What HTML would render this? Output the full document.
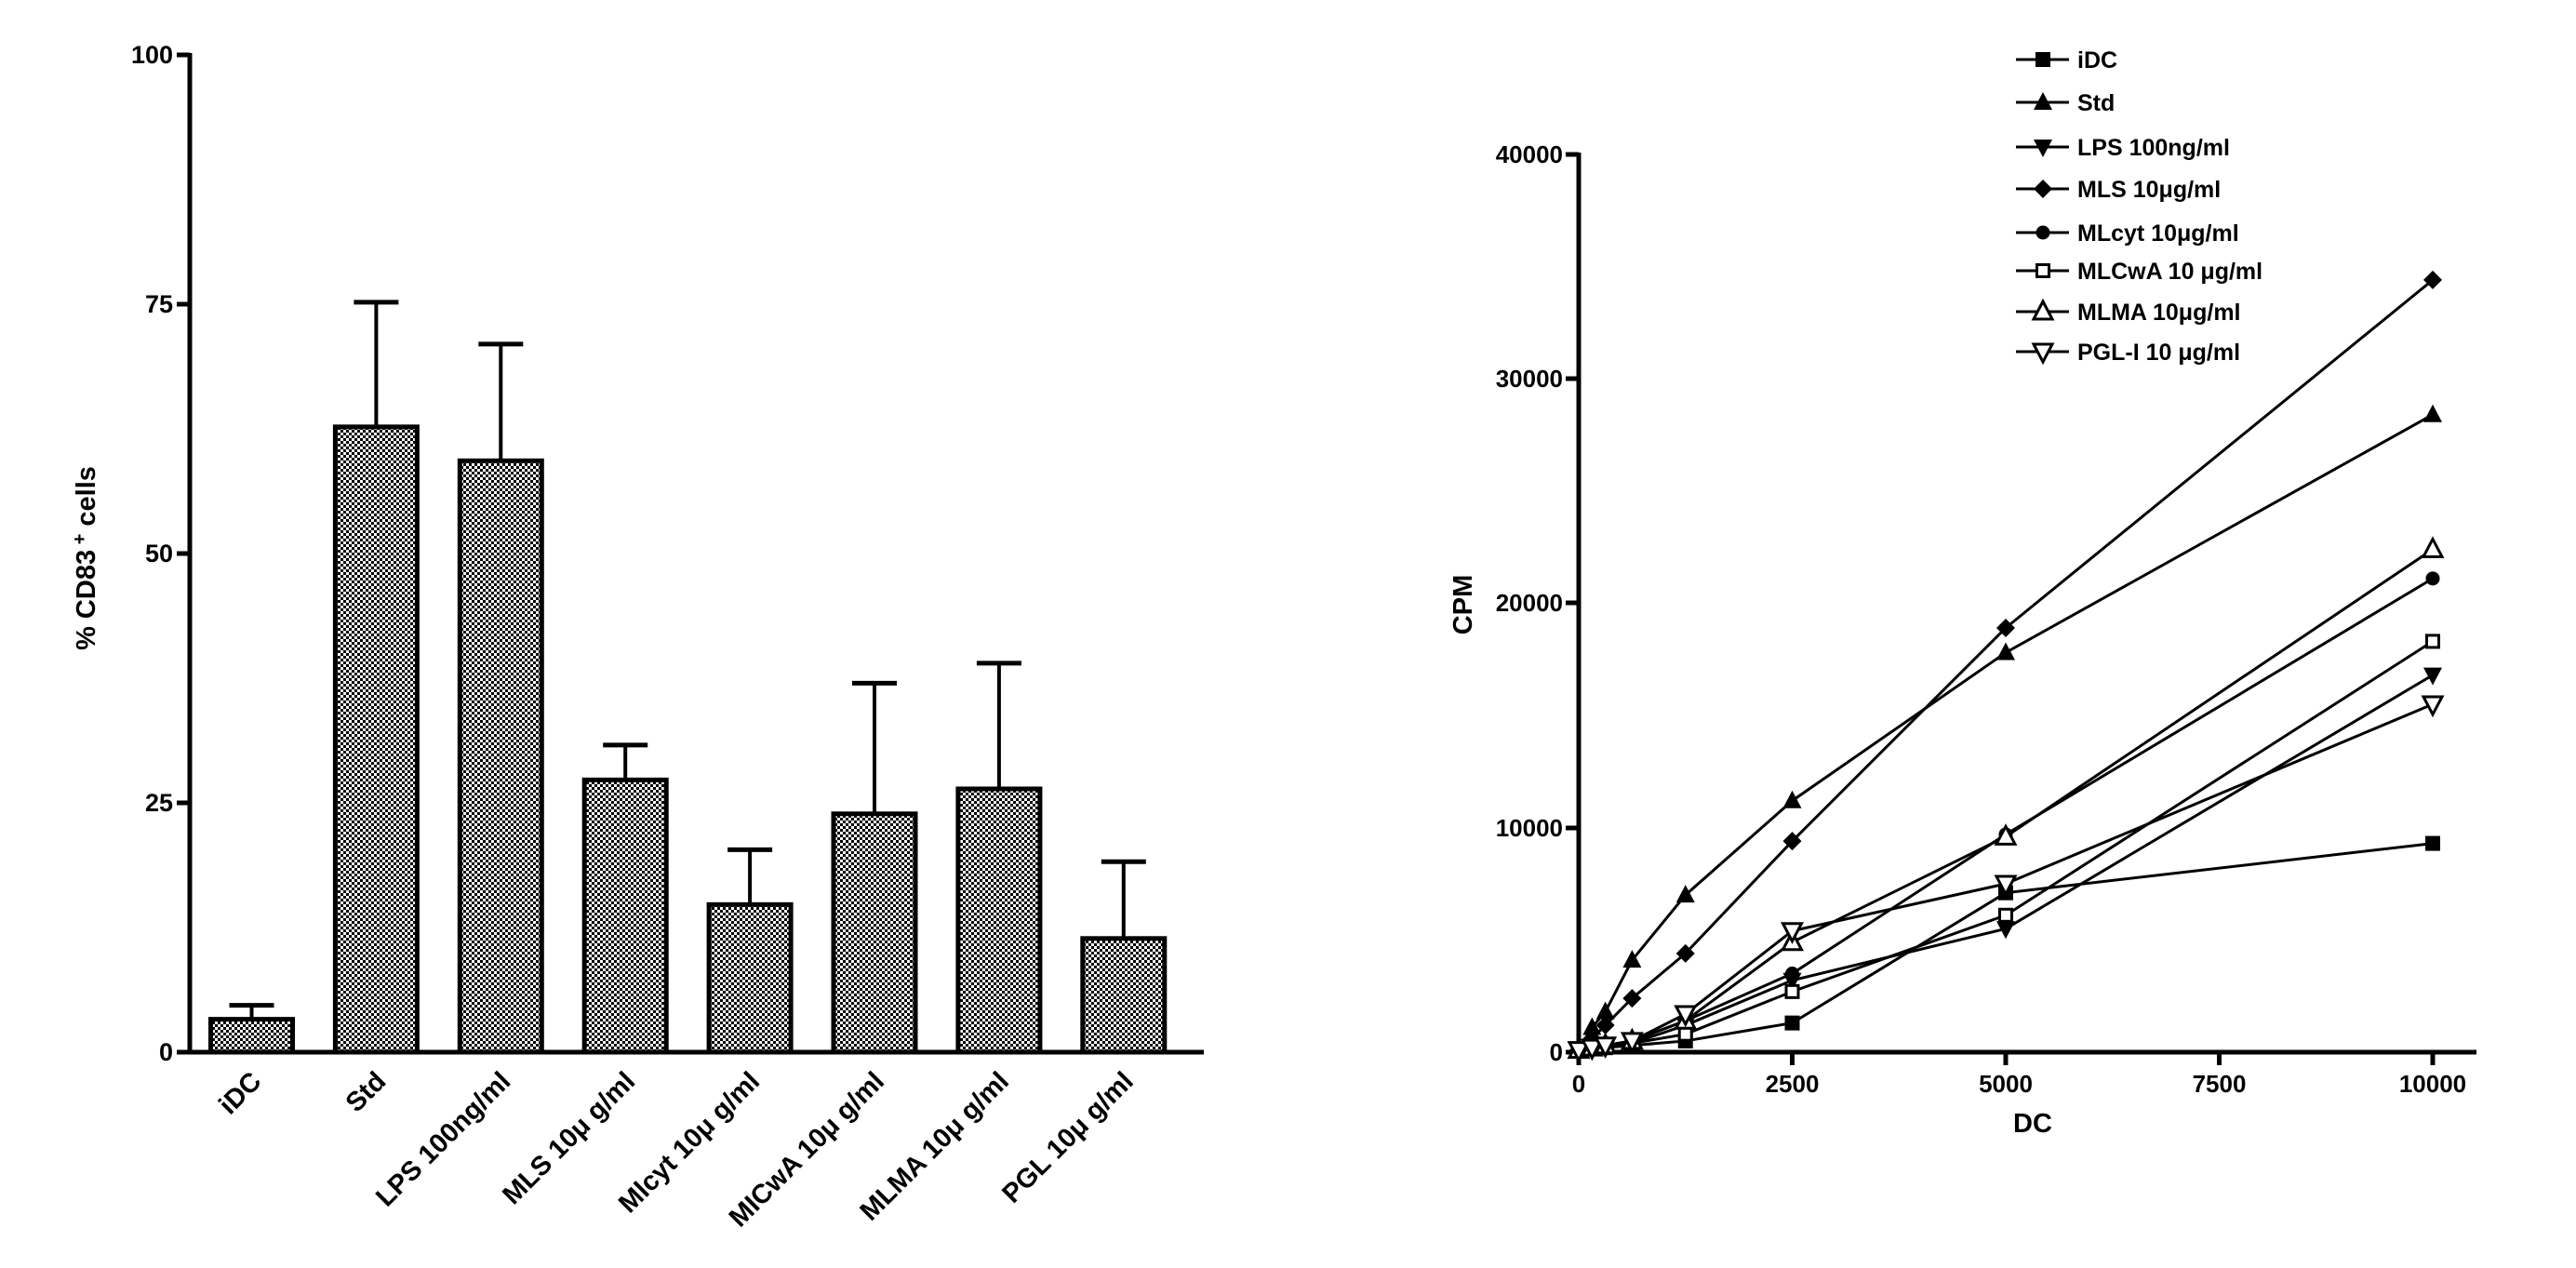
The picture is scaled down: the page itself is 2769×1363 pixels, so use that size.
<!DOCTYPE html>
<html><head><meta charset="utf-8"><style>
html,body{margin:0;padding:0;background:#fff;}
svg{display:block;font-family:"Liberation Sans",Arial,sans-serif;font-weight:bold;}
</style></head><body>
<svg width="2769" height="1363" viewBox="0 0 2769 1363" xmlns="http://www.w3.org/2000/svg">
<defs>
<pattern id="chk" width="6" height="6" patternUnits="userSpaceOnUse">
<rect width="6" height="6" fill="#fff"/><rect width="3" height="3" fill="#000"/><rect x="3" y="3" width="3" height="3" fill="#000"/>
</pattern>
</defs>
<g stroke="#000" stroke-width="5" fill="none">
<line x1="204" y1="57" x2="204" y2="1133"/>
<line x1="190" y1="1131" x2="1294" y2="1131"/>
<line x1="190" y1="59" x2="204" y2="59"/>
<line x1="190" y1="327" x2="204" y2="327"/>
<line x1="190" y1="595" x2="204" y2="595"/>
<line x1="190" y1="863" x2="204" y2="863"/>
</g>
<g font-size="27" text-anchor="end">
<text x="186" y="68">100</text><text x="186" y="336">75</text><text x="186" y="604">50</text><text x="186" y="872">25</text><text x="186" y="1140">0</text>
</g>
<text transform="translate(102,600) rotate(-90)" font-size="29" text-anchor="middle">% CD83<tspan font-size="20" dy="-10"> +</tspan><tspan dy="10"> cells</tspan></text>
<g id="bars"></g>
<script>
(function(){
var vals=[[3.3,4.7],[62.7,75.2],[59.3,71],[27.3,30.8],[14.8,20.3],[23.9,37],[26.4,39],[11.4,19.1]];
var labels=["iDC","Std","LPS 100ng/ml","MLS 10\u03bc g/ml","Mlcyt 10\u03bc g/ml","MICwA 10\u03bc g/ml","MLMA 10\u03bc g/ml","PGL 10\u03bc g/ml"];
var ns="http://www.w3.org/2000/svg",g=document.getElementById("bars");
function y(v){return 1131-v*10.72;}
function el(t,a,txt){var e=document.createElementNS(ns,t);for(var k in a)e.setAttribute(k,a[k]);if(txt)e.textContent=txt;g.appendChild(e);return e;}
for(var i=0;i<8;i++){
var cx=270.5+i*133.9,w=93;
el("line",{x1:cx,y1:y(vals[i][1]),x2:cx,y2:y(vals[i][0]),stroke:"#000","stroke-width":4});
el("line",{x1:cx-24,y1:y(vals[i][1]),x2:cx+24,y2:y(vals[i][1]),stroke:"#000","stroke-width":5});
el("rect",{x:cx-w/2+2.5,y:y(vals[i][0]),width:w-5,height:1131-y(vals[i][0]),fill:"url(#chk)",stroke:"#000","stroke-width":5});
el("text",{transform:"translate("+(cx+12)+",1164) rotate(-45)","text-anchor":"end","font-size":"29"},labels[i]);
}
})();
</script>
<g stroke="#000" stroke-width="5" fill="none">
<line x1="1697" y1="164" x2="1697" y2="1145"/>
<line x1="1683" y1="1131" x2="2662" y2="1131"/>
<line x1="1683" y1="166" x2="1697" y2="166"/>
<line x1="1683" y1="407" x2="1697" y2="407"/>
<line x1="1683" y1="648" x2="1697" y2="648"/>
<line x1="1683" y1="890" x2="1697" y2="890"/>
<line x1="1926.5" y1="1131" x2="1926.5" y2="1145"/>
<line x1="2156" y1="1131" x2="2156" y2="1145"/>
<line x1="2385.5" y1="1131" x2="2385.5" y2="1145"/>
<line x1="2615" y1="1131" x2="2615" y2="1145"/>
</g>
<g font-size="26" text-anchor="end">
<text x="1680" y="175">40000</text><text x="1680" y="416">30000</text><text x="1680" y="657">20000</text><text x="1680" y="899">10000</text><text x="1680" y="1140">0</text>
</g>
<g font-size="26" text-anchor="middle">
<text x="1697" y="1174">0</text><text x="1926.5" y="1174">2500</text><text x="2156" y="1174">5000</text><text x="2385.5" y="1174">7500</text><text x="2615" y="1174">10000</text>
</g>
<text x="2185" y="1217" font-size="29" text-anchor="middle">DC</text>
<text transform="translate(1582,650) rotate(-90)" font-size="29" text-anchor="middle">CPM</text>
<g id="lines"></g>
<script>
(function(){
var ns="http://www.w3.org/2000/svg",g=document.getElementById("lines");
function el(t,a,txt){var e=document.createElementNS(ns,t);for(var k in a)e.setAttribute(k,a[k]);if(txt)e.textContent=txt;g.appendChild(e);return e;}
var xs=[0,156,312,625,1250,2500,5000,10000];
var S=[
["iDC","sq",[100,150,200,300,500,1300,7100,9300]],
["Std","tu",[100,1100,1800,4100,7000,11200,17800,28400]],
["LPS 100ng/ml","td",[100,200,300,400,1200,3200,5500,16800]],
["MLS 10\u03bcg/ml","dia",[100,600,1200,2400,4400,9400,18900,34400]],
["MLcyt 10\u03bcg/ml","ci",[100,200,300,500,1400,3500,9700,21100]],
["MLCwA 10 \u03bcg/ml","osq",[100,150,250,400,800,2700,6100,18300]],
["MLMA 10\u03bcg/ml","otu",[100,200,300,500,1400,4900,9600,22400]],
["PGL-I 10 \u03bcg/ml","otd",[100,200,300,500,1700,5400,7500,15500]]];
function X(v){return 1697+v*0.0918;}function Y(v){return 1131-v*0.02413;}
function mk(t,x,y){var s=8;
if(t=="sq")el("rect",{x:x-s,y:y-s,width:2*s,height:2*s,fill:"#000"});
if(t=="osq")el("rect",{x:x-s+1.5,y:y-s+1.5,width:2*s-3,height:2*s-3,fill:"#fff",stroke:"#000","stroke-width":3});
if(t=="tu")el("polygon",{points:(x-10)+","+(y+8)+" "+(x+10)+","+(y+8)+" "+x+","+(y-11),fill:"#000"});
if(t=="td")el("polygon",{points:(x-10)+","+(y-8)+" "+(x+10)+","+(y-8)+" "+x+","+(y+11),fill:"#000"});
if(t=="otu")el("polygon",{points:(x-10)+","+(y+8)+" "+(x+10)+","+(y+8)+" "+x+","+(y-11),fill:"#fff",stroke:"#000","stroke-width":3});
if(t=="otd")el("polygon",{points:(x-10)+","+(y-8)+" "+(x+10)+","+(y-8)+" "+x+","+(y+11),fill:"#fff",stroke:"#000","stroke-width":3});
if(t=="dia")el("polygon",{points:x+","+(y-10)+" "+(x+10)+","+y+" "+x+","+(y+10)+" "+(x-10)+","+y,fill:"#000"});
if(t=="ci")el("circle",{cx:x,cy:y,r:7.5,fill:"#000"});
}
S.forEach(function(s){var p=s[2].map(function(v,i){return X(xs[i])+","+Y(v);}).join(" ");
el("polyline",{points:p,fill:"none",stroke:"#000","stroke-width":3});});
S.forEach(function(s){s[2].forEach(function(v,i){mk(s[1],X(xs[i]),Y(v));});});
var ly=[64,110,158,203,250,291,335,378];
S.forEach(function(s,i){el("line",{x1:2167,y1:ly[i],x2:2224,y2:ly[i],stroke:"#000","stroke-width":3});mk(s[1],2196,ly[i]);
el("text",{x:2233,y:ly[i]+9,"font-size":"25"},s[0]);});
})();
</script>
</svg>
</body></html>
